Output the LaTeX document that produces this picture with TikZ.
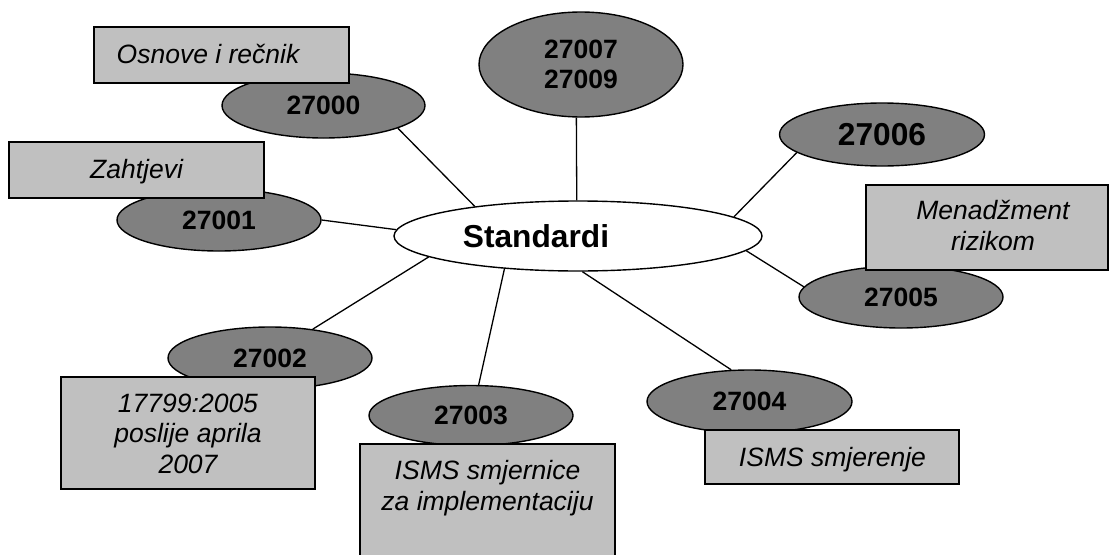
\documentclass[tikz,border=0pt]{standalone}
\usepackage{fontspec}
\setmainfont{Liberation Sans}
\usetikzlibrary{shapes.geometric}

\definecolor{numgray}{HTML}{808080}
\definecolor{notegray}{HTML}{C0C0C0}

\newcommand\numfont{\fontsize{26.5}{30}\selectfont\bfseries}
\newcommand\bignumfont{\fontsize{31.7}{36}\selectfont\bfseries}
\newcommand\notefont{\fontsize{26.5}{30.5}\selectfont\itshape}

\tikzset{
  hub/.style={ellipse, draw=black, line width=1.4pt, fill=white, inner sep=0pt,
              minimum width=368pt, minimum height=70pt, font=\bignumfont},
  num/.style={ellipse, draw=black, line width=1.4pt, fill=numgray, inner sep=0pt,
              minimum width=204pt, minimum height=62pt, font=\numfont, align=center},
  note/.style={rectangle, draw=black, line width=1.8pt, fill=notegray, inner sep=0pt},
  tag/.style={font=\notefont, align=center, inner sep=0pt, anchor=base},
  link/.style={line width=1.3pt, draw=black}
}

\begin{document}
\begin{tikzpicture}[x=1pt,y=-1pt]
  \clip (0,0) rectangle (1110,554);
  \fill[white] (0,0) rectangle (1110,554);

  % central node and the numbered standards around it
  \node[hub] (std) at (578,236) {Standardi\hspace*{84pt}};
  \node[num, minimum width=203pt, minimum height=65pt] (n0) at (323.5,105.5) {27000};
  \node[num] (n1) at (219,220) {27001};
  \node[num] (n2) at (270,358) {27002};
  \node[num, minimum height=60pt] (n3) at (471,415.5) {27003};
  \node[num, minimum width=205pt, minimum height=63pt] (n4) at (749.5,401.5) {27004};
  \node[num] (n5) at (901,297) {27005};
  \node[num, minimum width=205pt, minimum height=63pt, font=\bignumfont] (n6) at (882,134.5) {27006};
  \node[num, minimum height=105pt] (n7) at (581,64.5) {27007\\27009};

  % spokes
  \draw[link] (n0.-17.5) -- (std.164.4);
  \draw[link] (n7.-95.4) -- (std.92.1);
  \draw[link] (n6.-168.2) -- (std.7.4);
  \draw[link] (n1.0.5) -- (std.178.3);
  \draw[link] (n2.34.9) -- (std.-172.1);
  \draw[link] (n3.76.2) -- (std.-156);
  \draw[link] (n4.120.4) -- (std.-83.7);
  \draw[link] (n5.174.6) -- (std.-5.8);

  % description boxes
  \node[note, minimum width=255pt, minimum height=56pt] (b0) at (221.5,55) {};
  \node[note, minimum width=255pt, minimum height=56pt] (b1) at (136.5,170) {};
  \node[note, minimum width=254pt, minimum height=112pt] (b2) at (188,433) {};
  \node[note, minimum width=255pt, minimum height=136pt] (b3) at (487.5,512) {};
  \node[note, minimum width=254pt, minimum height=54pt] (b4) at (832,457) {};
  \node[note, minimum width=242pt, minimum height=85pt] (b5) at (987,227.5) {};

  % box texts (base = baseline of the last line)
  \node[tag] (t0) at (208,63) {Osnove i rečnik};
  \node[tag] (t1) at (136.5,178) {Zahtjevi};
  \node[tag] (t2) at (188,473) {17799:2005\\poslije aprila\\2007};
  \node[tag] (t3) at (487.5,510) {ISMS smjernice\\za implementaciju};
  \node[tag] (t4) at (832.5,466) {ISMS smjerenje};
  \node[tag] (t5) at (993,250) {Menadžment\\rizikom};
\end{tikzpicture}
\end{document}
